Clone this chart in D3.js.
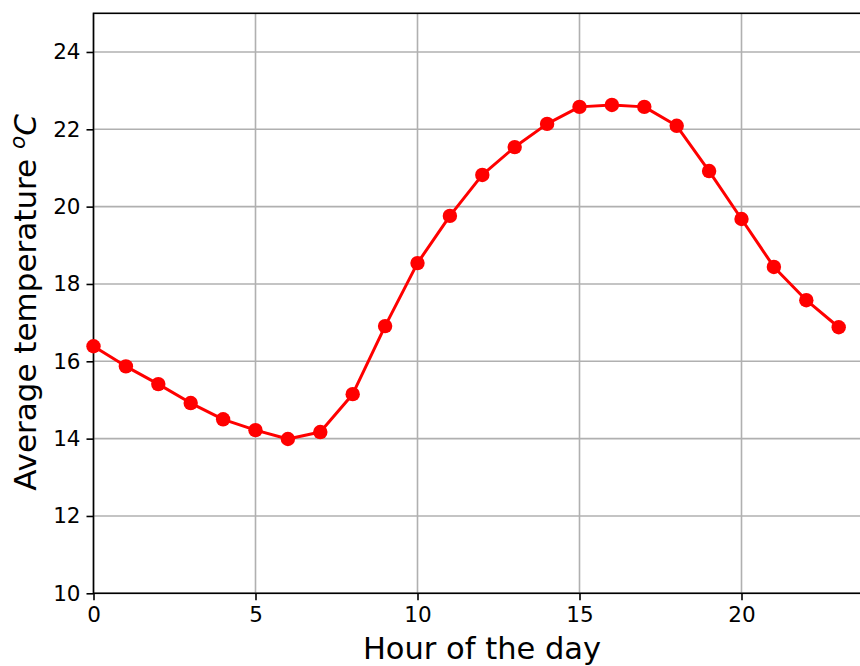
<!DOCTYPE html>
<html>
<head>
<meta charset="utf-8">
<script src="https://cdn.jsdelivr.net/npm/d3@7"></script>
<style>
  html, body { margin: 0; padding: 0; background: #fff; }
  svg { display: block; }
  text { font-family: "DejaVu Sans", sans-serif; }
</style>
</head>
<body>
<svg id="chart" width="860" height="666"></svg>
<script>
const hours = [0,1,2,3,4,5,6,7,8,9,10,11,12,13,14,15,16,17,18,19,20,21,22,23];
const temps = [16.39,15.87,15.41,14.92,14.50,14.22,13.99,14.17,15.15,16.91,18.54,19.76,20.82,21.54,22.14,22.58,22.63,22.58,22.09,20.92,19.68,18.44,17.58,16.88];
const xTicks = [0,5,10,15,20];
const yTicks = [10,12,14,16,18,20,22,24];
const xLabel = "Hour of the day";
const yLabel = "Average temperature ";

(function () {
const svg = d3.select("#chart");
const pLeft = 93.5, pTop = 13.3, pBottom = 593.3;
const x = d3.scaleLinear().domain([0, 24.15]).range([pLeft, pLeft + 24.15 * 32.4]);
const y = d3.scaleLinear().domain([10, 25]).range([pBottom, pTop]);
const pRight = x.range()[1];

// grid
svg.append("g").selectAll("line").data(xTicks).join("line")
  .attr("x1", d => x(d)).attr("x2", d => x(d)).attr("y1", pTop).attr("y2", pBottom)
  .attr("stroke", "#b0b0b0").attr("stroke-width", 1.6);
svg.append("g").selectAll("line").data(yTicks).join("line")
  .attr("x1", pLeft).attr("x2", pRight).attr("y1", d => y(d)).attr("y2", d => y(d))
  .attr("stroke", "#b0b0b0").attr("stroke-width", 1.6);

// axes
const xAxis = d3.axisBottom(x).tickValues(xTicks).tickSize(7).tickPadding(6).tickFormat(d3.format("d"));
const yAxis = d3.axisLeft(y).tickValues(yTicks).tickSize(7).tickPadding(6).tickFormat(d3.format("d"));
const gx = svg.append("g").attr("transform", `translate(0,${pBottom})`).call(xAxis);
const gy = svg.append("g").attr("transform", `translate(${pLeft},0)`).call(yAxis);
[gx, gy].forEach(g => {
  g.select(".domain").remove();
  g.selectAll(".tick line").attr("stroke", "#000").attr("stroke-width", 1.6);
  g.selectAll(".tick text").attr("fill", "#000").style("font-size", "21.5px").style("font-family", "DejaVu Sans");
});

// spines
svg.append("rect").attr("x", pLeft).attr("y", pTop).attr("width", pRight - pLeft).attr("height", pBottom - pTop)
  .attr("fill", "none").attr("stroke", "#000").attr("stroke-width", 1.6);

// line + markers
const line = d3.line().x((d, i) => x(hours[i])).y(d => y(d));
svg.append("path").datum(temps).attr("d", line)
  .attr("fill", "none").attr("stroke", "#ff0000").attr("stroke-width", 3).attr("stroke-linejoin", "round");
svg.append("g").selectAll("circle").data(temps).join("circle")
  .attr("cx", (d, i) => x(hours[i])).attr("cy", d => y(d)).attr("r", 7.2).attr("fill", "#ff0000");

// labels
svg.append("text").attr("x", 482).attr("y", 659).attr("text-anchor", "middle")
  .style("font-size", "30.5px").attr("fill", "#000").text(xLabel);
const yl = svg.append("text").attr("transform", "translate(36,302.5) rotate(-90)").attr("text-anchor", "middle")
  .style("font-size", "31px").attr("fill", "#000");
yl.append("tspan").text(yLabel);
yl.append("tspan").attr("font-style", "italic").attr("dy", -11).style("font-size", "21.5px").text("o");
yl.append("tspan").attr("font-style", "italic").attr("dy", 11).text("C");
})();
</script>
</body>
</html>
